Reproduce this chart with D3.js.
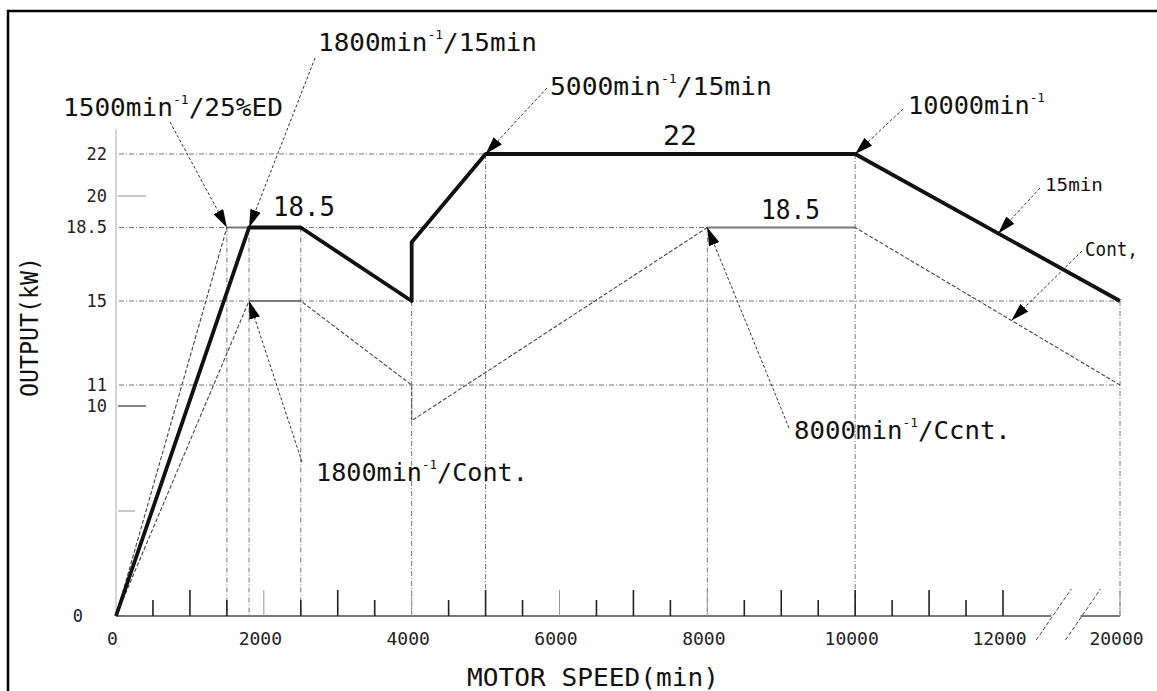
<!DOCTYPE html>
<html>
<head>
<meta charset="utf-8">
<script src="https://cdn.jsdelivr.net/npm/d3@7"></script>
<style>
  body { margin: 0; background: #fff; }
  svg { display: block; font-family: 'DejaVu Sans Mono', monospace; }
</style>
</head>
<body>
<div id="chart"></div>
<script>
// values
const speedLabels = [0, 2000, 4000, 6000, 8000, 10000, 12000, 20000];
const speedTicks = [500, 1000, 1500, 2000, 2500, 3000, 3500, 4000, 4500, 5000, 5500, 6000,
  6500, 7000, 7500, 8000, 8500, 9000, 9500, 10000, 10500, 11000, 11500, 12000, 20000];
const outputLabels = [0, 10, 11, 15, 18.5, 20, 22];
const outputTicks = [5, 10, 20];

// 15 min rating (bold line)
const s15Speed = [0, 1800, 2500, 4000, 4000, 5000, 10000, 20000];
const s15Output = [0, 18.5, 18.5, 15, 17.8, 22, 22, 15];
// continuous rating
const contSpeed = [0, 1800, 2500, 4000, 4000, 8000, 10000, 20000];
const contOutput = [0, 15, 15, 11, 9.3, 18.5, 18.5, 11];
// 25%ED rating
const edSpeed = [0, 1500, 1800];
const edOutput = [0, 18.5, 18.5];

// dotted reference lines
const gridOutputs = [22, 18.5, 15, 11];
const gridOutputEnds = [10000, 10000, 20000, 20000];
const gridSpeeds = [1500, 1800, 2500, 4000, 5000, 8000, 10000, 20000];
const gridSpeedTops = [18.5, 18.5, 18.5, 15, 22, 18.5, 22, 15];
const axisBreak = [15300, 17300];

const width = 1157;
const height = 691;

const svg = d3.select('#chart').append('svg')
  .attr('width', width)
  .attr('height', height)
  .attr('viewBox', [0, 0, width, height]);

// axis is broken between 12000 and 20000
const x = d3.scaleLinear().domain([0, 12000, 20000]).range([116, 1003, 1120]);
const y = d3.scaleLinear().domain([0, 22]).range([616, 154]);

// frame (top + left only)
svg.append('path')
  .attr('d', `M8,${height} V11 H${width}`)
  .attr('fill', 'none')
  .attr('stroke', '#000')
  .attr('stroke-width', 2.5);

// grid
const grid = svg.append('g')
  .attr('stroke', '#777')
  .attr('stroke-width', 1)
  .attr('stroke-dasharray', '5,2,1,2');
grid.selectAll('.hg').data(gridOutputs).join('line')
  .attr('x1', x(0) + 3)
  .attr('x2', (d, i) => x(gridOutputEnds[i]))
  .attr('y1', (d) => y(d))
  .attr('y2', (d) => y(d));
grid.selectAll('.vg').data(gridSpeeds).join('line')
  .attr('x1', (d) => x(d))
  .attr('x2', (d) => x(d))
  .attr('y1', (d, i) => y(gridSpeedTops[i]))
  .attr('y2', y(0));

// y axis
svg.append('line')
  .attr('x1', x(0)).attr('x2', x(0))
  .attr('y1', y(23.2)).attr('y2', y(0))
  .attr('stroke', '#aaa');
svg.selectAll('.yt').data(outputTicks).join('line')
  .attr('x1', x(0) + 2)
  .attr('x2', (d) => x(0) + (d === 5 ? 19 : 30))
  .attr('y1', (d) => y(d))
  .attr('y2', (d) => y(d))
  .attr('stroke', (d) => (d === 10 ? '#444' : '#aaa'))
  .attr('stroke-width', 1.3);

const yAxis = svg.append('g')
  .attr('transform', `translate(${x(0)},0)`)
  .call(d3.axisLeft(y).tickValues(outputLabels).tickSize(0).tickPadding(9)
    .tickFormat((d) => (d === 18.5 ? '18.5' : d)));
yAxis.select('.domain').remove();
yAxis.selectAll('text')
  .attr('font-family', 'DejaVu Sans Mono, monospace')
  .attr('font-size', 17)
  .attr('fill', '#222')
  .attr('dx', (d) => (d === 0 ? -24 : 0));

// x axis
svg.append('path')
  .attr('d', `M${x(0)},${y(0)} H${x(axisBreak[0])} M${x(axisBreak[1])},${y(0)} H${x(20000)}`)
  .attr('stroke', '#777')
  .attr('stroke-width', 2);
svg.selectAll('.xt').data(speedTicks).join('line')
  .attr('x1', (d) => x(d))
  .attr('x2', (d) => x(d))
  .attr('y1', y(0))
  .attr('y2', (d) => y(0) - (d % 1000 === 0 ? 26 : 16))
  .attr('stroke', (d) => (d % 2000 === 0 && d !== 10000 && d !== 12000 ? '#999' : '#222'))
  .attr('stroke-width', (d) => (d % 2000 === 0 && d !== 10000 && d !== 12000 ? 1 : 1.6));
svg.selectAll('.brk').data(axisBreak).join('line')
  .attr('x1', (d) => x(d) - 15)
  .attr('x2', (d) => x(d) + 20)
  .attr('y1', y(0) + 24)
  .attr('y2', y(0) - 27)
  .attr('stroke', '#444')
  .attr('stroke-dasharray', '4,2');

const xAxis = svg.append('g')
  .attr('transform', `translate(0,${y(0)})`)
  .call(d3.axisBottom(x).tickValues(speedLabels).tickSize(0).tickPadding(16).tickFormat((d) => d));
xAxis.select('.domain').remove();
xAxis.selectAll('text')
  .attr('font-family', 'DejaVu Sans Mono, monospace')
  .attr('font-size', 18)
  .attr('fill', '#222')
  .attr('dx', -4);

// series
const line = d3.line().x((d) => x(d[0])).y((d) => y(d[1]));

function drawThin(speeds, outputs) {
  const pts = d3.zip(speeds, outputs);
  svg.append('path')
    .attr('d', line(pts))
    .attr('fill', 'none')
    .attr('stroke', '#444')
    .attr('stroke-width', 1.1)
    .attr('stroke-dasharray', '4,2');
  // flat parts are drawn solid in the original
  const flats = d3.pairs(pts).filter(([a, b]) => a[1] === b[1]);
  svg.selectAll(null).data(flats).join('path')
    .attr('d', (d) => line(d))
    .attr('stroke', '#777')
    .attr('stroke-width', 2);
}
drawThin(edSpeed, edOutput);
drawThin(contSpeed, contOutput);

svg.append('path')
  .attr('d', line(d3.zip(s15Speed, s15Output)))
  .attr('fill', 'none')
  .attr('stroke', '#111')
  .attr('stroke-width', 3.8)
  .attr('stroke-linejoin', 'round');

// arrows and notes
svg.append('defs').append('marker')
  .attr('id', 'head')
  .attr('markerUnits', 'userSpaceOnUse')
  .attr('viewBox', '0 0 18 11')
  .attr('markerWidth', 18)
  .attr('markerHeight', 11)
  .attr('refX', 18)
  .attr('refY', 5.5)
  .attr('orient', 'auto')
  .append('path')
  .attr('d', 'M0,0 L18,5.5 L0,11 Z')
  .attr('fill', '#000');

function along(speeds, outputs, i, t) {
  const x0 = x(speeds[i]);
  const y0 = y(outputs[i]);
  return [x0 + (x(speeds[i + 1]) - x0) * t, y0 + (y(outputs[i + 1]) - y0) * t];
}
const pt = (s, o) => [x(s), y(o)];

const notes = [
  { parts: ['1500min', '-1', '/25%ED'], x0: 63, x1: 283, cy: 107, size: 25, tail: [170, 122], at: pt(1500, 18.5) },
  { parts: ['1800min', '-1', '/15min'], x0: 318, x1: 537, cy: 42, size: 25, tail: [315, 58], at: pt(1800, 18.5) },
  { parts: ['5000min', '-1', '/15min'], x0: 550, x1: 772, cy: 86, size: 25, tail: [547, 88], at: pt(5000, 22) },
  { parts: ['10000min', '-1'], x0: 908, x1: 1045, cy: 105, size: 25, tail: [903, 109], at: pt(10000, 22) },
  { parts: ['15min'], x0: 1045, x1: 1103, cy: 184, size: 18, tail: [1040, 188], at: along(s15Speed, s15Output, 6, 0.54) },
  { parts: ['Cont,'], x0: 1085, x1: 1138, cy: 249, size: 19, tail: [1082, 251], at: along(contSpeed, contOutput, 6, 0.59) },
  { parts: ['1800min', '-1', '/Cont.'], x0: 316, x1: 528, cy: 472, size: 25, tail: [302, 462], at: pt(1800, 15) },
  { parts: ['8000min', '-1', '/Ccnt.'], x0: 794, x1: 1011, cy: 430, size: 25, tail: [789, 428], at: pt(8000, 18.5) },
  { parts: ['18.5'], x0: 273, x1: 335, cy: 207, size: 27 },
  { parts: ['18.5'], x0: 761, x1: 820, cy: 210, size: 27 },
  { parts: ['22'], x0: 663, x1: 697, cy: 135, size: 27 },
  { parts: ['MOTOR SPEED(min)'], x0: 467, x1: 719, cy: 677, size: 25 },
];

// draw text so that it spans x0..x1 (original font is condensed)
function fitText(n) {
  const t = svg.append('text')
    .attr('font-size', n.size)
    .attr('fill', '#111')
    .attr('dominant-baseline', 'central');
  n.parts.forEach((p, i) => {
    const sup = i % 2 === 1;
    t.append('tspan')
      .attr('font-size', sup ? n.size * 0.5 : n.size)
      .attr('dy', sup ? -n.size * 0.32 : (i > 0 ? n.size * 0.32 : 0))
      .text(p);
  });
  const w = t.node().getComputedTextLength();
  t.attr('transform', `translate(${n.x0},${n.cy}) scale(${(n.x1 - n.x0) / w},1)`);
  return t;
}

notes.forEach((n) => {
  if (n.tail) {
    svg.append('line')
      .attr('x1', n.tail[0]).attr('y1', n.tail[1])
      .attr('x2', n.at[0]).attr('y2', n.at[1])
      .attr('stroke', '#333')
      .attr('stroke-width', 1)
      .attr('stroke-dasharray', '3,2')
      .attr('marker-end', 'url(#head)');
  }
  fitText(n);
});

// y axis name
const yName = svg.append('text')
  .attr('font-size', 25)
  .attr('fill', '#111')
  .attr('text-anchor', 'middle')
  .attr('dominant-baseline', 'central')
  .text('OUTPUT(kW)');
const yw = yName.node().getComputedTextLength();
yName.attr('transform', `translate(30,327) rotate(-90) scale(${140 / yw},1)`);
</script>
</body>
</html>
